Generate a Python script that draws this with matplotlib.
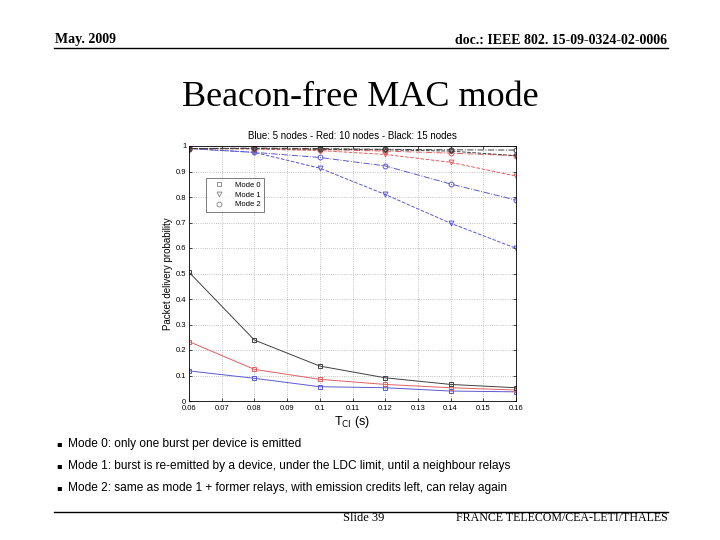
import matplotlib
matplotlib.use("Agg")
import matplotlib.pyplot as plt
from matplotlib.lines import Line2D
import numpy as np

# ---------------------------------------------------------
# DATA
# ---------------------------------------------------------

t_ci = [0.06, 0.08, 0.10, 0.12, 0.14, 0.16]

# blue: 5 nodes
blue_mode0 = [0.118, 0.089, 0.056, 0.052, 0.039, 0.036]
blue_mode1 = [0.99, 0.975, 0.913, 0.81, 0.697, 0.599]
blue_mode2 = [0.99, 0.975, 0.955, 0.922, 0.851, 0.788]

# red: 10 nodes
red_mode0 = [0.233, 0.124, 0.085, 0.065, 0.052, 0.043]
red_mode1 = [0.99, 0.988, 0.982, 0.967, 0.936, 0.882]
red_mode2 = [0.99, 0.99, 0.986, 0.98, 0.972, 0.962]

# black: 15 nodes
black_mode0 = [0.505, 0.239, 0.137, 0.091, 0.065, 0.052]
black_mode1 = [0.99, 0.99, 0.987, 0.985, 0.98, 0.962]
black_mode2 = [0.99, 0.992, 0.99, 0.987, 0.985, 0.984]

x_ticks = [0.06, 0.07, 0.08, 0.09, 0.1, 0.11, 0.12, 0.13, 0.14, 0.15, 0.16]
x_tick_labels = ["0.06", "0.07", "0.08", "0.09", "0.1", "0.11", "0.12",
                 "0.13", "0.14", "0.15", "0.16"]
y_ticks = [0, 0.1, 0.2, 0.3, 0.4, 0.5, 0.6, 0.7, 0.8, 0.9, 1.0]
y_tick_labels = ["0", "0.1", "0.2", "0.3", "0.4", "0.5", "0.6", "0.7",
                 "0.8", "0.9", "1"]

mode_names = ["Mode 0", "Mode 1", "Mode 2"]

bullets = [
    "Mode 0: only one burst per device is emitted",
    "Mode 1: burst is re-emitted by a device, under the LDC limit, until a neighbour relays",
    "Mode 2: same as mode 1 + former relays, with emission credits left, can relay again",
]

# ---------------------------------------------------------
# STYLE
# ---------------------------------------------------------

serif = ["Liberation Serif", "DejaVu Serif"]
sans = ["Liberation Sans", "DejaVu Sans"]

c_blue = "#5a5ad0"
c_red = "#e06060"
c_black = "#404040"

mode_markers = ["s", "v", "o"]
mode_styles = ["-", "--", "-."]

# ---------------------------------------------------------
# FIGURE / SLIDE
# ---------------------------------------------------------

W, H = 720, 540
fig = plt.figure(figsize=(7.2, 5.4), dpi=100)
fig.patch.set_facecolor("white")


def fx(px):
    return px / W


def fy(py):
    return 1 - py / H


# header
fig.text(fx(55), fy(40), "May. 2009", family=serif, fontsize=10,
         fontweight="bold", ha="left", va="center")
fig.text(fx(667), fy(40), "doc.: IEEE 802. 15-09-0324-02-0006", family=serif,
         fontsize=10, fontweight="bold", ha="right", va="center")
fig.add_artist(Line2D([fx(54), fx(668)], [fy(48), fy(48)], color="black",
                      linewidth=1.0))

# title
fig.text(fx(360), fy(97), "Beacon-free MAC mode", family=serif, fontsize=26,
         ha="center", va="center")

# bullets
for i, b in enumerate(bullets):
    y = 444 + 22 * i
    fig.text(fx(56), fy(y), "\u25aa", family=["DejaVu Sans"], fontsize=6,
             ha="left", va="center")
    fig.text(fx(68), fy(y), b, family=sans, fontsize=8.6,
             ha="left", va="center")

# footer
fig.add_artist(Line2D([fx(54), fx(668)], [fy(512), fy(512)], color="black",
                      linewidth=1.0))
fig.text(fx(343), fy(518), "Slide 39", family=serif, fontsize=9,
         ha="left", va="center")
fig.text(fx(668), fy(518), "FRANCE TELECOM/CEA-LETI/THALES", family=serif,
         fontsize=8.6, ha="right", va="center")

# ---------------------------------------------------------
# CHART
# ---------------------------------------------------------

ax = fig.add_axes([fx(189), fy(401), (516 - 189) / W, (401 - 146) / H])

series = [
    (blue_mode0, blue_mode1, blue_mode2, c_blue),
    (red_mode0, red_mode1, red_mode2, c_red),
    (black_mode0, black_mode1, black_mode2, c_black),
]

for m0, m1, m2, col in series:
    for vals, mk, ls in zip([m0, m1, m2], mode_markers, mode_styles):
        ax.plot(t_ci, vals, linestyle=ls, marker=mk, color=col,
                linewidth=0.7, markersize=3.5, markerfacecolor="none",
                markeredgewidth=0.7)

ax.set_xlim(0.06, 0.16)
ax.set_ylim(0, 1)
ax.set_xticks(x_ticks)
ax.set_xticklabels(x_tick_labels)
ax.set_yticks(y_ticks)
ax.set_yticklabels(y_tick_labels)
ax.tick_params(labelsize=5.5, length=2, width=0.5, direction="in",
               top=True, right=True, pad=2)
ax.tick_params(axis="x", pad=3)
for lab in ax.get_xticklabels() + ax.get_yticklabels():
    lab.set_family(sans)
ax.grid(True, linestyle=":", color="#b0b0b0", linewidth=0.6)
for s in ax.spines.values():
    s.set_linewidth(0.6)

ax.set_title("Blue: 5 nodes - Red: 10 nodes - Black: 15 nodes",
             family=sans, fontsize=7, pad=5)
ax.set_ylabel("Packet delivery probability", family=sans, fontsize=7,
              labelpad=2)
ax.set_xlabel("T$_{\\rm CI}$ (s)", family=sans, fontsize=9, labelpad=1)

handles = [Line2D([], [], linestyle="none", marker=mk, color="#808080",
                  markerfacecolor="none", markersize=3.5,
                  markeredgewidth=0.6) for mk in mode_markers]
leg = ax.legend(handles, mode_names, loc="upper left",
                bbox_to_anchor=(0.04, 0.89), fontsize=5.5, frameon=True,
                fancybox=False, edgecolor="#404040", handlelength=2.5,
                labelspacing=0.3, borderpad=0.5, handletextpad=0.8)
leg.get_frame().set_linewidth(0.6)
for t in leg.get_texts():
    t.set_family(sans)

plt.savefig("out.png", dpi=100)
plt.close()
